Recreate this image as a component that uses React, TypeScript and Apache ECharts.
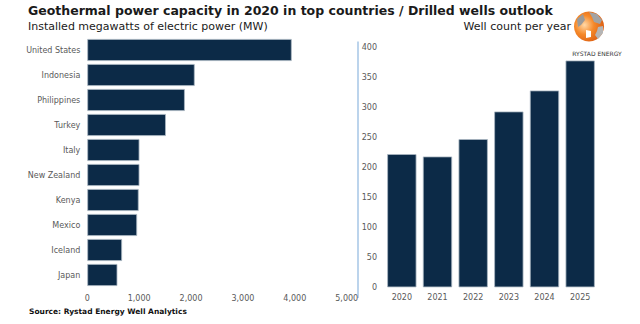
import React, { useEffect, useRef } from "react";
import * as echarts from "echarts";

const countries = ["United States", "Indonesia", "Philippines", "Turkey", "Italy", "New Zealand", "Kenya", "Mexico", "Iceland", "Japan"];
const capacityMW = [3940, 2070, 1880, 1515, 1005, 1005, 990, 960, 670, 580];
const years = ["2020", "2021", "2022", "2023", "2024", "2025"];
const wellCounts = [222, 218, 247, 293, 328, 378];
const capacityTicks = [0, 1000, 2000, 3000, 4000, 5000];
const wellTicks = [0, 50, 100, 150, 200, 250, 300, 350, 400];

const FONT = "DejaVu Sans";
const BAR = "#0c2a47";
const LABEL = "#595959";

export default function App() {
  const ref = useRef<HTMLDivElement>(null);
  useEffect(() => {
    if (!ref.current) return;
    const chart = echarts.init(ref.current, undefined, { renderer: "svg" });
    const axisLabel = { color: LABEL, fontFamily: FONT, fontSize: 8 };
    chart.setOption({
      animation: false,
      backgroundColor: "#ffffff",
      textStyle: { fontFamily: FONT },
      grid: [
        { left: 87.3, top: 37.5, width: 259.4, height: 250 },
        { left: 384, top: 47.3, width: 214, height: 240 },
      ],
      xAxis: [
        {
          type: "value",
          gridIndex: 0,
          min: capacityTicks[0],
          max: capacityTicks[capacityTicks.length - 1],
          interval: 1000,
          splitLine: { show: false },
          axisLine: { show: false },
          axisTick: { show: false },
          axisLabel: { ...axisLabel, margin: 7, formatter: (v: number) => v.toLocaleString("en-US") },
        },
        {
          type: "category",
          gridIndex: 1,
          data: years,
          axisLine: { show: false },
          axisTick: { show: false },
          axisLabel: { ...axisLabel, margin: 6 },
        },
      ],
      yAxis: [
        {
          type: "category",
          gridIndex: 0,
          data: countries,
          inverse: true,
          axisLine: { show: false },
          axisTick: { show: false },
          axisLabel: { ...axisLabel, margin: 7 },
        },
        {
          type: "value",
          gridIndex: 1,
          min: wellTicks[0],
          max: wellTicks[wellTicks.length - 1],
          interval: 50,
          splitLine: { show: false },
          axisLine: { show: false },
          axisTick: { show: false },
          axisLabel: { ...axisLabel, margin: 7 },
        },
      ],
      series: [
        {
          type: "bar",
          xAxisIndex: 0,
          yAxisIndex: 0,
          data: capacityMW,
          barCategoryGap: "12%",
          itemStyle: { color: BAR, borderColor: "#aab6c2", borderWidth: 0.8 },
        },
        {
          type: "bar",
          xAxisIndex: 1,
          yAxisIndex: 1,
          data: wellCounts,
          barCategoryGap: "18%",
          itemStyle: { color: BAR, borderColor: "#aab6c2", borderWidth: 0.8 },
        },
      ],
      graphic: [
        {
          type: "text",
          left: 28,
          top: 4,
          style: { text: "Geothermal power capacity in 2020 in top countries / Drilled wells outlook", fontFamily: FONT, fontWeight: "bold", fontSize: 12.5, fill: "#1a1a1a" },
        },
        {
          type: "text",
          left: 28,
          top: 20.5,
          style: { text: "Installed megawatts of electric power (MW)", fontFamily: FONT, fontSize: 11, fill: "#1a1a1a" },
        },
        {
          type: "text",
          right: 69,
          top: 20.5,
          style: { text: "Well count per year", fontFamily: FONT, fontSize: 11, fill: "#1a1a1a" },
        },
        {
          type: "line",
          shape: { x1: 358, y1: 41.5, x2: 358, y2: 298 },
          style: { stroke: "#8fb8e0", lineWidth: 1.2 },
        },
        {
          type: "text",
          left: 29,
          top: 307,
          style: { text: "Source: Rystad Energy Well Analytics", fontFamily: FONT, fontWeight: "bold", fontSize: 7.5, fill: "#111111" },
        },
        {
          type: "group",
          children: [
            {
              type: "circle",
              shape: { cx: 589, cy: 26.5, r: 15 },
              style: {
                fill: new echarts.graphic.RadialGradient(0.35, 0.45, 0.7, [
                  { offset: 0, color: "#ffd9a8" },
                  { offset: 0.45, color: "#f5892a" },
                  { offset: 1, color: "#d9590f" },
                ]),
              },
            },
            {
              type: "polygon",
              shape: { points: [[589, 12], [597, 14], [602, 20], [600, 24], [594, 22], [592, 17]] },
              style: { fill: "#a3a3a3" },
            },
            {
              type: "polygon",
              shape: { points: [[598, 27], [603, 26], [603, 33], [598, 39], [595, 35], [597, 31]] },
              style: { fill: "#b5b5b5" },
            },
            {
              type: "polygon",
              shape: { points: [[577, 19], [583, 14], [585, 20], [581, 25], [578, 27]] },
              style: { fill: "#9a9a9a" },
            },
            {
              type: "polygon",
              shape: { points: [[586, 30], [591, 31], [591, 37], [586, 38]] },
              style: { fill: "#ffffff" },
            },
            {
              type: "text",
              x: 597,
              y: 53,
              style: { text: "RYSTAD ENERGY", fontFamily: FONT, fontSize: 6, fill: "#333333", align: "center", verticalAlign: "middle" },
            },
          ],
        },
      ],
    });
    return () => chart.dispose();
  }, []);
  return <div ref={ref} style={{ position: "fixed", left: 0, top: 0, width: 640, height: 324 }} />;
}

const _unused = React;
